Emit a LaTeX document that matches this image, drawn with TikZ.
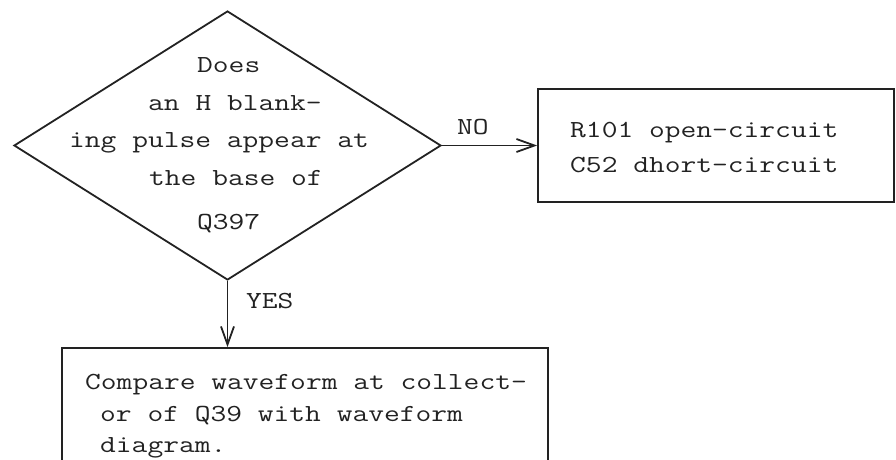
\documentclass[tikz,border=0pt]{standalone}
\usepackage{graphicx}
\usetikzlibrary{shapes.geometric,arrows.meta}
\definecolor{ink}{HTML}{222222}
\newcommand{\tw}[1]{\scalebox{1.25}[1]{\fontsize{24.5}{30}\ttfamily\selectfont #1}}
\tikzset{
  txt/.style={anchor=base west,inner sep=0pt,text=ink},
  boxed/.style={draw=ink,line width=1.8pt,inner sep=0pt},
  conn/.style={draw=ink,line width=1.8pt,-{Straight Barb[length=18pt,width=13pt,line width=1.8pt]}}
}
\begin{document}
\begin{tikzpicture}[x=1pt,y=-1pt]
\useasboundingbox (0,0) rectangle (896,460);
\clip (0,0) rectangle (896,460);
% decision diamond
\node[boxed,shape=diamond,aspect=1.587,minimum width=427pt,minimum height=269pt] (d) at (227.5,145.5) {};
\node[txt] (d1) at (197,72) {\tw{Does}};
\node[txt] (d2) at (148,110) {\tw{an H blank-}};
\node[txt] (d3) at (69,147) {\tw{ing pulse appear at}};
\node[txt] (d4) at (149,185) {\tw{the base of}};
\node[txt] (d5) at (197,229) {\tw{Q397}};
% NO box
\node[boxed,minimum width=356pt,minimum height=113pt] (nobox) at (716,145.5) {};
\node[txt] (n1) at (570,137) {\tw{R101 open-circuit}};
\node[txt] (n2) at (570,172) {\tw{C52 dhort-circuit}};
% YES box (cut off at the bottom)
\node[boxed,minimum width=486pt,minimum height=140pt] (yesbox) at (305,418) {};
\node[txt] (y1) at (85,389) {\tw{Compare waveform at collect-}};
\node[txt] (y2) at (100,421) {\tw{or of Q39 with waveform}};
\node[txt] (y3) at (100,452) {\tw{diagram.}};
% connectors
\draw[conn] (d.east) -- (d.east -| nobox.west);
\draw[conn] (d.south) -- (d.south |- yesbox.north);
\node[txt] (no) at (457,134) {\tw{NO}};
\node[txt] (yes) at (246,308) {\tw{YES}};
\end{tikzpicture}
\end{document}
